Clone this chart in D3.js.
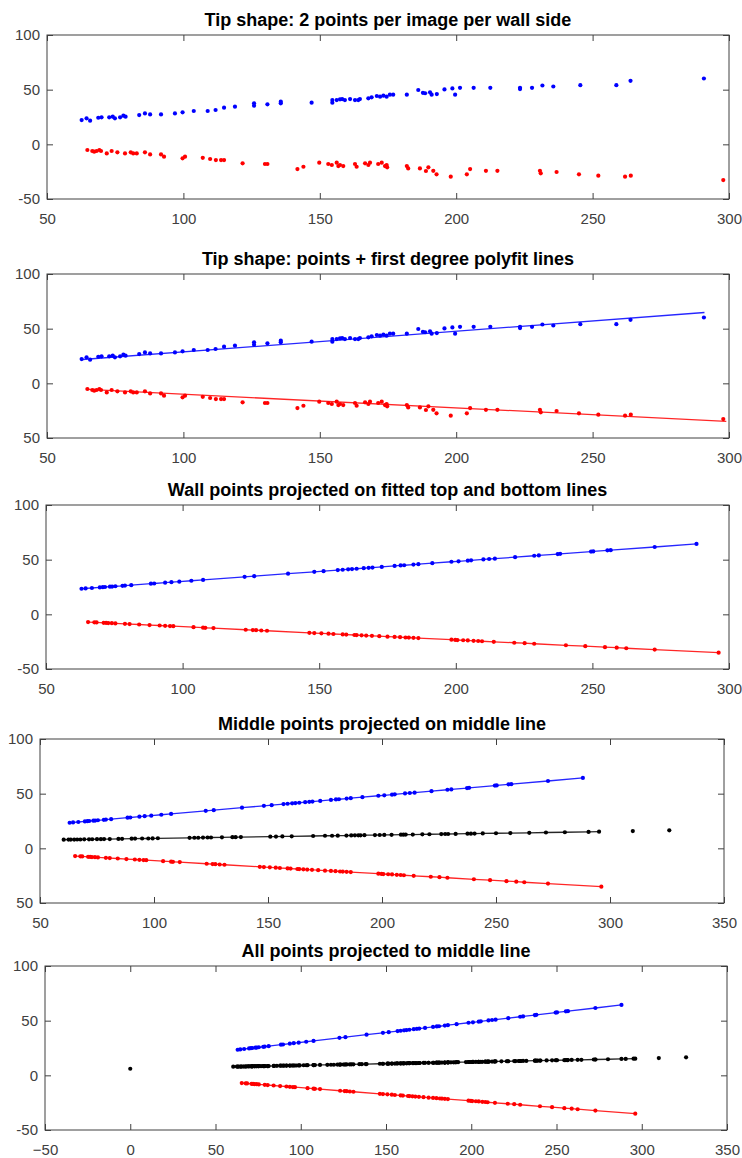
<!DOCTYPE html>
<html lang="en">
	<head>
		<meta charset="utf-8">
		<title>Tip shape</title>
		<style type="text/css">
		body {
			background-color: white;
			margin: 0px;
			padding: 0px;
			font-family: 'Liberation Sans', Arial, sans-serif;
		}
		.tick text {
			fill: #404040;
			font-size: 15px;
			font-family: 'Liberation Sans', Arial, sans-serif;
		}
		.tick line {
			stroke: #404040;
		}
		.title {
			font-weight: bold;
			font-size: 18px;
			fill: #000;
		}
		</style>
	</head>
	<body>
		<div id="chart"></div>
		<script src="https://d3js.org/d3.v7.min.js"></script>
		<script type="text/javascript">

			const titles = [
				"Tip shape: 2 points per image per wall side",
				"Tip shape: points + first degree polyfit lines",
				"Wall points projected on fitted top and bottom lines",
				"Middle points projected on middle line",
				"All points projected to middle line"
			];

			const xTicks300 = [50, 100, 150, 200, 250, 300];
			const xTicks350 = [50, 100, 150, 200, 250, 300, 350];
			const xTicksWide = [-50, 0, 50, 100, 150, 200, 250, 300, 350];
			const yTicks = [-50, 0, 50, 100];
			const yLabelsFull = ["-50", "0", "50", "100"];
			const yLabelsCut = ["50", "0", "50", "100"];

			// raw wall points (top side = blue, bottom side = red)
			const wallTop = [[62.7,22.2],[64.5,23.8],[65.8,21.6],[68.8,24.3],[70.0,24.7],[72.8,24.7],[74.1,25.3],[74.9,23.8],[76.8,24.7],[78.0,26.2],[78.8,25.3],[83.8,26.8],[85.9,28.3],[87.8,27.4],[91.8,27.4],[96.9,28.3],[99.7,29.3],[103.8,30.5],[108.9,30.5],[111.8,31.4],[114.9,33.5],[118.9,34.4],[125.9,37.5],[125.9,35.3],[130.8,36.6],[135.7,39.0],[135.7,37.5],[147.0,38.1],[154.6,40.5],[154.6,38.1],[156.2,40.5],[157.4,41.2],[158.2,41.4],[159.2,40.5],[161.1,41.4],[162.9,40.5],[164.1,40.5],[164.7,41.4],[167.8,42.1],[169.0,43.0],[170.9,44.2],[172.1,43.6],[173.3,44.5],[174.5,43.6],[175.7,45.4],[176.9,45.4],[181.9,45.4],[186.1,49.7],[187.8,47.1],[188.6,46.7],[190.4,47.6],[191.0,45.4],[192.9,46.0],[195.7,50.2],[198.6,51.1],[199.6,45.4],[201.4,51.7],[206.4,51.7],[212.5,51.7],[223.4,51.7],[223.4,50.5],[227.8,51.7],[231.6,53.8],[235.6,52.9],[245.5,54.1],[258.7,54.1],[263.9,58.1],[290.8,60.2]];

			const wallBottom = [[64.8,-5.2],[66.6,-6.1],[67.3,-6.7],[68.2,-6.1],[69.2,-5.2],[69.8,-6.1],[71.9,-8.3],[73.7,-6.1],[75.8,-7.3],[78.6,-8.3],[80.7,-7.3],[81.6,-8.3],[82.9,-8.3],[85.9,-7.3],[87.8,-9.2],[91.8,-9.2],[92.9,-11.3],[99.7,-12.8],[100.6,-11.3],[107.1,-12.3],[109.8,-13.4],[111.9,-14.4],[113.8,-14.4],[114.9,-14.4],[121.7,-17.4],[129.9,-18.0],[130.8,-18.0],[141.8,-22.6],[144.0,-20.5],[149.8,-16.8],[153.1,-18.0],[154.4,-18.9],[156.2,-16.8],[156.8,-19.9],[157.4,-18.9],[158.6,-19.9],[162.9,-18.0],[163.5,-20.5],[166.6,-17.4],[167.8,-18.9],[168.4,-16.8],[171.4,-18.0],[172.7,-16.8],[173.9,-19.9],[174.5,-18.9],[174.7,-21.0],[181.9,-19.9],[182.4,-22.0],[186.7,-22.0],[188.9,-24.4],[189.8,-21.0],[191.6,-24.2],[192.8,-27.4],[198.0,-29.6],[203.9,-27.4],[205.1,-22.6],[210.9,-24.2],[215.1,-24.2],[230.7,-24.2],[231.0,-26.5],[236.8,-25.3],[245.0,-27.4],[252.1,-28.7],[261.9,-29.6],[264.0,-28.7],[297.9,-32.7]];

			// first degree polyfit lines, end points
			const fitTop = [[63.0,21.8],[291.0,64.8]];
			const fitBottom = [[65.0,-5.6],[299.0,-34.8]];

			// wall points projected on the fitted lines
			const projTop = [[63.0,23.4],[64.5,23.7],[66.8,24.1],[69.7,24.6],[70.8,24.8],[71.6,25.0],[73.4,25.3],[74.2,25.4],[75.4,25.7],[78.0,26.1],[78.9,26.3],[81.2,26.7],[88.4,28.0],[89.6,28.2],[93.6,29.0],[95.9,29.4],[98.8,29.9],[103.2,30.7],[107.5,31.5],[122.7,34.3],[126.2,34.9],[138.6,37.2],[148.2,38.9],[151.6,39.5],[156.8,40.5],[158.6,40.8],[160.6,41.2],[162.0,41.4],[163.7,41.7],[166.3,42.2],[168.1,42.5],[169.5,42.8],[172.9,43.4],[177.6,44.3],[179.8,44.7],[181.1,44.9],[184.5,45.5],[186.3,45.9],[191.4,46.8],[198.4,48.1],[201.0,48.5],[204.4,49.1],[205.6,49.4],[210.1,50.2],[212.2,50.6],[214.3,50.9],[221.7,52.3],[228.7,53.6],[230.4,53.9],[237.3,55.1],[238.2,55.3],[249.5,57.4],[250.3,57.5],[255.5,58.5],[256.7,58.7],[272.8,61.6],[288.1,64.4]];

			const projBottom = [[65.4,-7.1],[67.7,-7.3],[68.5,-7.4],[71.1,-7.8],[72.0,-7.9],[72.8,-8.0],[74.1,-8.1],[75.4,-8.3],[78.9,-8.7],[80.6,-8.9],[84.1,-9.3],[87.9,-9.8],[91.6,-10.2],[93.6,-10.5],[95.4,-10.7],[96.6,-10.8],[104.0,-11.7],[107.5,-12.2],[108.3,-12.3],[111.3,-12.6],[123.1,-14.1],[125.7,-14.4],[126.9,-14.5],[128.8,-14.8],[130.9,-15.0],[146.4,-16.9],[148.2,-17.1],[150.8,-17.4],[153.4,-17.7],[155.2,-18.0],[158.6,-18.4],[159.9,-18.5],[162.9,-18.9],[163.7,-19.0],[165.5,-19.2],[167.2,-19.4],[169.3,-19.7],[172.0,-20.0],[175.0,-20.4],[177.6,-20.7],[179.6,-20.9],[181.6,-21.2],[182.8,-21.3],[184.5,-21.5],[186.3,-21.7],[198.4,-23.2],[199.8,-23.4],[200.6,-23.5],[202.7,-23.7],[204.4,-23.9],[206.5,-24.2],[208.2,-24.4],[209.6,-24.6],[213.9,-25.1],[221.4,-26.0],[225.2,-26.4],[228.7,-26.9],[240.3,-28.3],[247.4,-29.1],[254.6,-30.0],[258.9,-30.5],[262.4,-31.0],[272.8,-32.2],[296.2,-35.1]];

			// middle points projected on the middle line
			const projMiddle = [[60.4,7.9],[62.5,8.0],[63.5,8.0],[65.0,8.0],[66.3,8.1],[67.7,8.1],[69.4,8.2],[71.5,8.2],[72.9,8.3],[75.0,8.4],[76.7,8.4],[78.1,8.5],[80.6,8.5],[84.4,8.6],[86.0,8.7],[90.2,8.8],[91.7,8.9],[94.8,9.0],[97.5,9.0],[99.4,9.1],[101.7,9.2],[115.6,9.6],[117.7,9.7],[119.4,9.7],[121.5,9.8],[123.5,9.9],[125.0,9.9],[129.8,10.1],[134.4,10.2],[135.8,10.2],[138.1,10.3],[151.0,10.7],[153.5,10.8],[156.3,10.9],[160.4,11.0],[169.8,11.3],[175.0,11.5],[178.1,11.5],[180.6,11.6],[184.4,11.7],[186.5,11.8],[188.1,11.9],[189.6,11.9],[190.6,11.9],[192.3,12.0],[196.9,12.1],[199.0,12.2],[201.0,12.3],[204.2,12.4],[208.3,12.5],[209.4,12.5],[210.4,12.6],[213.5,12.6],[217.7,12.8],[220.8,12.9],[226.0,13.0],[227.7,13.1],[229.0,13.1],[232.3,13.2],[237.5,13.4],[239.0,13.4],[240.6,13.5],[244.2,13.6],[250.0,13.8],[256.3,14.0],[264.6,14.2],[271.9,14.5],[280.2,14.7],[290.6,15.0],[295.2,15.2]];
			const middleOutliers = [[310.0,15.8],[326.0,16.5]];

			// top and bottom wall points projected to the middle line
			const topOnMiddle = [[63.0,8.0],[64.5,8.0],[66.8,8.1],[69.7,8.2],[70.8,8.2],[71.6,8.2],[73.4,8.3],[74.2,8.3],[75.4,8.4],[78.0,8.4],[78.9,8.5],[81.2,8.5],[88.4,8.8],[89.6,8.8],[93.6,8.9],[95.9,9.0],[98.8,9.1],[103.2,9.2],[107.5,9.4],[122.7,9.8],[126.2,9.9],[138.6,10.3],[148.2,10.6],[151.6,10.7],[156.8,10.9],[158.6,10.9],[160.6,11.0],[162.0,11.0],[163.7,11.1],[166.3,11.2],[168.1,11.2],[169.5,11.3],[172.9,11.4],[177.6,11.5],[179.8,11.6],[181.1,11.6],[184.5,11.7],[186.3,11.8],[191.4,12.0],[198.4,12.2],[201.0,12.3],[204.4,12.4],[205.6,12.4],[210.1,12.5],[212.2,12.6],[214.3,12.7],[221.7,12.9],[228.7,13.1],[230.4,13.2],[237.3,13.4],[238.2,13.4],[249.5,13.8],[250.3,13.8],[255.5,14.0],[256.7,14.0],[272.8,14.5],[288.1,15.0]];
			const bottomOnMiddle = [[65.4,8.1],[67.7,8.1],[68.5,8.2],[71.1,8.2],[72.0,8.3],[72.8,8.3],[74.1,8.3],[75.4,8.4],[78.9,8.5],[80.6,8.5],[84.1,8.6],[87.9,8.8],[91.6,8.9],[93.6,8.9],[95.4,9.0],[96.6,9.0],[104.0,9.3],[107.5,9.4],[108.3,9.4],[111.3,9.5],[123.1,9.8],[125.7,9.9],[126.9,10.0],[128.8,10.0],[130.9,10.1],[146.4,10.6],[148.2,10.6],[150.8,10.7],[153.4,10.8],[155.2,10.8],[158.6,10.9],[159.9,11.0],[162.9,11.1],[163.7,11.1],[165.5,11.2],[167.2,11.2],[169.3,11.3],[172.0,11.4],[175.0,11.5],[177.6,11.5],[179.6,11.6],[181.6,11.7],[182.8,11.7],[184.5,11.7],[186.3,11.8],[198.4,12.2],[199.8,12.2],[200.6,12.2],[202.7,12.3],[204.4,12.4],[206.5,12.4],[208.2,12.5],[209.6,12.5],[213.9,12.7],[221.4,12.9],[225.2,13.0],[228.7,13.1],[240.3,13.5],[247.4,13.7],[254.6,13.9],[258.9,14.1],[262.4,14.2],[272.8,14.5],[296.2,15.2]];
			const allOutliers = [[0.0,6.0]];

			const BLUE = "#0000ff", RED = "#ff0000", BLACK = "#000000";

			const allMiddle = projMiddle.concat(topOnMiddle, bottomOnMiddle)
				.sort(function(a, b){ return a[0] - b[0]; });

			const panels = [
				{title: titles[0], left: 47, right: 729, top: 35, bottom: 199, xDomain: [50, 300], xTicks: xTicks300, yLabels: yLabelsFull,
					layers: [
						{type: "dots", data: wallTop, color: BLUE},
						{type: "dots", data: wallBottom, color: RED}
					]},
				{title: titles[1], left: 47, right: 729, top: 274, bottom: 438, xDomain: [50, 300], xTicks: xTicks300, yLabels: yLabelsCut,
					layers: [
						{type: "dots", data: wallTop, color: BLUE},
						{type: "dots", data: wallBottom, color: RED},
						{type: "line", data: fitTop, color: BLUE},
						{type: "line", data: fitBottom, color: RED}
					]},
				{title: titles[2], left: 46, right: 729, top: 505, bottom: 669, xDomain: [50, 300], xTicks: xTicks300, yLabels: yLabelsFull,
					layers: [
						{type: "line", data: projTop, color: BLUE},
						{type: "line", data: projBottom, color: RED},
						{type: "dots", data: projTop, color: BLUE},
						{type: "dots", data: projBottom, color: RED}
					]},
				{title: titles[3], left: 40, right: 724, top: 739, bottom: 903, xDomain: [50, 350], xTicks: xTicks350, yLabels: yLabelsCut,
					layers: [
						{type: "line", data: projTop, color: BLUE},
						{type: "line", data: projBottom, color: RED},
						{type: "line", data: projMiddle, color: BLACK},
						{type: "dots", data: projTop, color: BLUE},
						{type: "dots", data: projBottom, color: RED},
						{type: "dots", data: projMiddle, color: BLACK},
						{type: "dots", data: middleOutliers, color: BLACK}
					]},
				{title: titles[4], left: 45, right: 727, top: 966, bottom: 1130, xDomain: [-50, 350], xTicks: xTicksWide, yLabels: yLabelsFull,
					layers: [
						{type: "line", data: projTop, color: BLUE},
						{type: "line", data: projBottom, color: RED},
						{type: "line", data: allMiddle, color: BLACK},
						{type: "dots", data: projTop, color: BLUE},
						{type: "dots", data: projBottom, color: RED},
						{type: "dots", data: allMiddle, color: BLACK},
						{type: "dots", data: middleOutliers, color: BLACK},
						{type: "dots", data: allOutliers, color: BLACK}
					]}
			];

			const svg = d3.select("#chart")
				.append("svg")
				.attr("width", 742)
				.attr("height", 1158)
				.style("display", "block");

			panels.forEach(drawPanel);

			function drawPanel(p){

				const xScale = d3.scaleLinear()
					.domain(p.xDomain)
					.range([p.left, p.right]);

				const yScale = d3.scaleLinear()
					.domain([-50, 100])
					.range([p.bottom, p.top]);

				const g = svg.append("g");

				const line = d3.line()
					.x(function(d){ return xScale(d[0]); })
					.y(function(d){ return yScale(d[1]); });

				p.layers.forEach(function(layer){
					if (layer.type === "line") {
						g.append("path")
							.datum(layer.data)
							.attr("d", line)
							.style("fill", "none")
							.style("stroke", layer.color)
							.style("stroke-width", "1.3px")
							.style("opacity", 0.85);
					} else {
						g.selectAll(null)
							.data(layer.data)
							.enter()
							.append("circle")
							.attr("cx", function(d){ return xScale(d[0]); })
							.attr("cy", function(d){ return yScale(d[1]); })
							.attr("r", 2.1)
							.style("fill", layer.color);
					}
				});

				g.append("rect")
					.attr("x", p.left)
					.attr("y", p.top)
					.attr("width", p.right - p.left)
					.attr("height", p.bottom - p.top)
					.style("fill", "none")
					.style("stroke", "#404040")
					.style("stroke-width", "1px");

				const gX = g.append("g")
					.attr("transform", "translate(0," + p.bottom + ")")
					.call(d3.axisBottom(xScale)
						.tickValues(p.xTicks)
						.tickSizeInner(-6)
						.tickSizeOuter(0)
						.tickPadding(14)
						.tickFormat(d3.format("d")));

				const gXTop = g.append("g")
					.attr("transform", "translate(0," + p.top + ")")
					.call(d3.axisTop(xScale)
						.tickValues(p.xTicks)
						.tickSizeInner(-6)
						.tickSizeOuter(0)
						.tickFormat(""));

				const gY = g.append("g")
					.attr("transform", "translate(" + p.left + ",0)")
					.call(d3.axisLeft(yScale)
						.tickValues(yTicks)
						.tickSizeInner(-6)
						.tickSizeOuter(0)
						.tickPadding(7)
						.tickFormat(function(_, i){ return p.yLabels[i]; }));

				const gYRight = g.append("g")
					.attr("transform", "translate(" + p.right + ",0)")
					.call(d3.axisRight(yScale)
						.tickValues(yTicks)
						.tickSizeInner(-6)
						.tickSizeOuter(0)
						.tickFormat(""));

				[gX, gXTop, gY, gYRight].forEach(function(a){
					a.select(".domain").remove();
					a.attr("font-size", null).attr("font-family", null);
				});

				g.append("text")
					.attr("class", "title")
					.attr("x", (p.left + p.right) / 2)
					.attr("y", p.top - 9)
					.attr("text-anchor", "middle")
					.text(p.title);
			};

		</script>
	</body>
</html>
